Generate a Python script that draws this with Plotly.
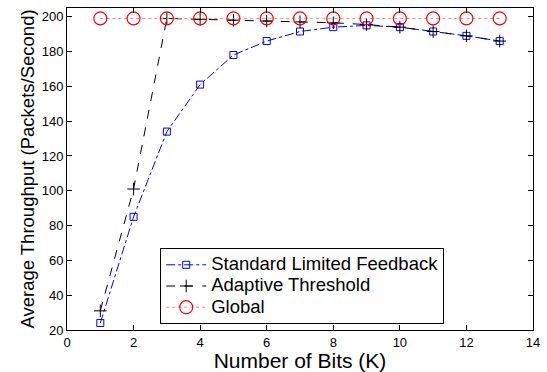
import plotly.graph_objects as go

bits = list(range(1, 14))
standard = [24, 85, 134, 161, 178, 186, 191.5, 194, 195, 194, 191.5, 189, 186]
adaptive = [31, 101, 199, 198.5, 198, 197.5, 197, 196.5, 195.5, 194, 191.5, 189, 186]
global_ = [199] * 13
names = ["Standard Limited Feedback", "Adaptive Threshold", "Global"]

FONT = "Liberation Sans, Arial, sans-serif"


def legend_label(s):
    return '<span style="font-size:18.5px">' + s + '</span>'


fig = go.Figure()
fig.add_trace(go.Scatter(
    x=bits, y=standard, name=legend_label(names[0]), mode="lines+markers",
    line=dict(color="blue", width=1, dash="dashdot"),
    marker=dict(symbol="square-open", size=7, color="blue", line=dict(width=1))))
fig.add_trace(go.Scatter(
    x=bits, y=adaptive, name=legend_label(names[1]), mode="lines+markers",
    line=dict(color="black", width=1, dash="dash"),
    marker=dict(symbol="cross-thin-open", size=9, color="black", line=dict(width=1, color="black"))))
fig.add_trace(go.Scatter(
    x=bits, y=global_, name=legend_label(names[2]), mode="lines+markers",
    line=dict(color="#ff8080", width=1, dash="dot"),
    marker=dict(symbol="circle-open", size=13, color="red", line=dict(width=1.2))))

axis_common = dict(
    showgrid=False, zeroline=False, ticks="inside", ticklen=5, tickcolor="black",
    showline=True, linecolor="black", linewidth=1, mirror="ticks",
    tickfont=dict(family=FONT, size=13, color="black"),
)
fig.update_xaxes(range=[0, 14], dtick=2, title=dict(text="Number of Bits (K)",
                 font=dict(family=FONT, size=21, color="black"), standoff=1), **axis_common)
fig.update_yaxes(range=[20, 205], tickvals=list(range(20, 201, 20)),
                 title=dict(text="Average Throughput (Packets/Second)",
                 font=dict(family=FONT, size=18.5, color="black"), standoff=2), **axis_common)

fig.update_layout(
    width=547, height=372, margin=dict(l=67, r=11, t=7, b=39),
    plot_bgcolor="white", paper_bgcolor="white",
    font=dict(family=FONT, color="black"),
    legend=dict(x=0.2, y=0.018, xanchor="left", yanchor="bottom",
                bordercolor="black", borderwidth=1, bgcolor="white",
                font=dict(family=FONT, size=14, color="black"),
                tracegroupgap=0, itemwidth=40),
    showlegend=True,
)
fig.write_html("out.html")
